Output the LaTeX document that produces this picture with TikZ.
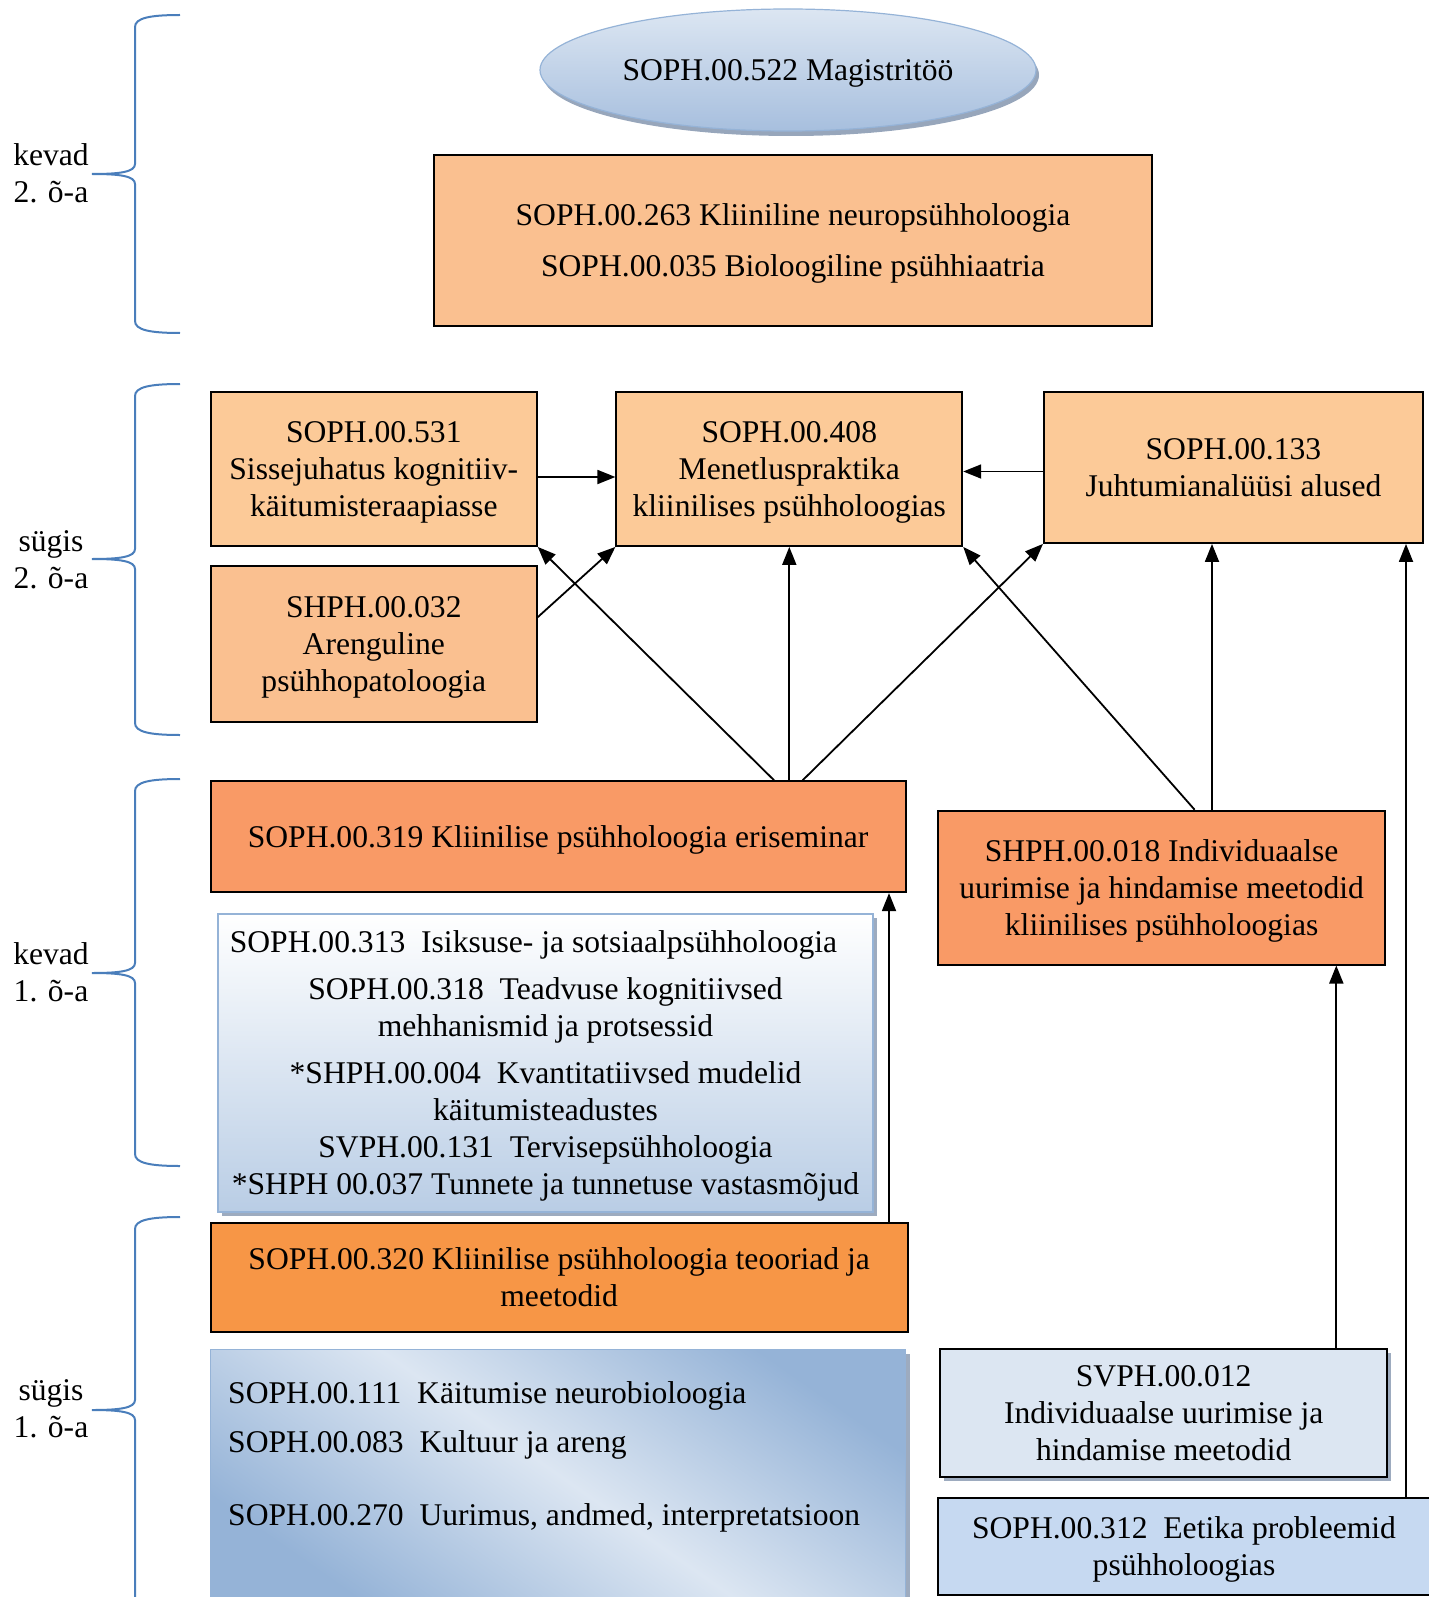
\documentclass[tikz,border=0pt]{standalone}
\usepackage{fontspec}
\setmainfont{Liberation Serif}
\usetikzlibrary{arrows.meta,shapes.geometric,shadows}
\definecolor{peach}{HTML}{FCCA98}
\definecolor{peachd}{HTML}{FAC090}
\definecolor{salmon}{HTML}{F99A66}
\definecolor{orng}{HTML}{F79646}
\definecolor{braceblue}{HTML}{4A7EBB}
\definecolor{lbA}{HTML}{DCE6F2}
\definecolor{lbB}{HTML}{95B3D7}
\definecolor{lbC}{HTML}{C6D9F1}
\definecolor{lbD}{HTML}{B9CDE5}
\definecolor{lbE}{HTML}{A7BFDE}
\definecolor{shd}{HTML}{8C9CB4}
\newcommand\tA{\rule{0pt}{30pt}}
\newcommand\tZ{\rule[-9pt]{0pt}{9pt}}
\newcommand\semBrace[3]{%
  \draw[bracestyle] (180,#1) .. controls (150,#1) and (135,#1+3) .. (135,#1+12)
    -- (135,#2-10) .. controls (135,#2-2) and (120,#2) .. (92,#2)
    .. controls (120,#2) and (135,#2+2) .. (135,#2+10)
    -- (135,#3-12) .. controls (135,#3-3) and (150,#3) .. (180,#3);}
\begin{document}
\begin{tikzpicture}[x=1pt,y=-1pt,
  font=\fontsize{31.6}{37}\selectfont,
  box/.style={draw=black, line width=1.8pt, align=center, inner sep=0pt},
  arr/.style={line width=1.8pt, -{Triangle[length=18pt,width=14pt]}},
  bracestyle/.style={draw=braceblue, line width=2pt},
  sem/.style={align=center, inner sep=0pt},
  shad/.style={drop shadow={shadow xshift=4pt,shadow yshift=-4pt,fill=shd,opacity=0.85}}]
\useasboundingbox (0,0) rectangle (1428,1597);

% braces and semester labels
\semBrace{15}{174}{333}
\semBrace{384}{559}{735}
\semBrace{779}{973}{1166}
\semBrace{1217}{1410}{1660}
\node[sem] (k2) at (51,173) {kevad\\2. õ-a};
\node[sem] (s2) at (51,560) {sügis\\2. õ-a};
\node[sem] (k1) at (51,972) {kevad\\1. õ-a};
\node[sem] (s1) at (51,1409) {sügis\\1. õ-a};

% nodes
\node[ellipse, draw=lbB, line width=1.2pt, minimum width=496pt, minimum height=122pt,
  top color=lbA, bottom color=lbE, inner sep=0pt,
  drop shadow={shadow xshift=3pt,shadow yshift=-5pt,fill=shd,opacity=0.9}] (mag) at (788,70)
  {\tA SOPH.00.522 Magistritöö\tZ};

\node[box, fill=peachd, minimum width=718pt, minimum height=171pt] (neuro) at (793,240.5)
  {\tA SOPH.00.263 Kliiniline neuropsühholoogia\\[14pt]SOPH.00.035 Bioloogiline psühhiaatria\tZ};

\node[box, fill=peach, minimum width=326pt, minimum height=154pt] (s531) at (373.8,469)
  {\tA SOPH.00.531\\Sissejuhatus kognitiiv-\\käitumisteraapiasse\tZ};
\node[box, fill=peach, minimum width=346pt, minimum height=154pt] (s408) at (789.3,469)
  {\tA SOPH.00.408\\Menetluspraktika\\kliinilises psühholoogias\tZ};
\node[box, fill=peach, minimum width=379pt, minimum height=151pt] (s133) at (1233.4,467.5)
  {\tA SOPH.00.133\\Juhtumianalüüsi alused\tZ};
\node[box, fill=peachd, minimum width=326pt, minimum height=156pt] (s032) at (373.8,644.2)
  {\tA SHPH.00.032\\Arenguline\\psühhopatoloogia\tZ};

\node[box, fill=salmon, minimum width=695pt, minimum height=111pt] (s319) at (558.1,836.7)
  {\tA SOPH.00.319 Kliinilise psühholoogia eriseminar\tZ};
\node[box, fill=salmon, minimum width=447pt, minimum height=154pt] (s018) at (1161.6,887.6)
  {\tA SHPH.00.018 Individuaalse\\uurimise ja hindamise meetodid\\kliinilises psühholoogias\tZ};

\node[box, draw=lbB, line width=1.5pt, top color=white, bottom color=lbD, shad,
  minimum width=655pt, minimum height=298pt] (l313) at (545.5,1062.8)
  {\tA SOPH.00.313~ Isiksuse- ja sotsiaalpsühholoogia\rule{24pt}{0pt}\\[10pt]
   SOPH.00.318~ Teadvuse kognitiivsed\\mehhanismid ja protsessid\\[10pt]
   *SHPH.00.004~ Kvantitatiivsed mudelid\\käitumisteadustes\\
   SVPH.00.131~ Tervisepsühholoogia\\
   *SHPH 00.037 Tunnete ja tunnetuse vastasmõjud\tZ};

\node[box, fill=orng, minimum width=697pt, minimum height=109pt] (s320) at (559.2,1277.7)
  {\tA SOPH.00.320 Kliinilise psühholoogia teooriad ja\\meetodid\tZ};

\node[box, draw=lbB, line width=1.5pt, shading=axis, top color=lbB,
  bottom color=lbB, middle color=lbA, shading angle=-35, shad,
  minimum width=695pt, minimum height=250pt] (l111) at (558.1,1474.5) {};
\node[align=left, inner sep=0pt, anchor=west] (l111t) at (228,1457)
  {SOPH.00.111~ Käitumise neurobioloogia\\[12pt]
   SOPH.00.083~ Kultuur ja areng\\[36pt]
   SOPH.00.270~ Uurimus, andmed, interpretatsioon};

\node[box, fill=lbA, shad, minimum width=447pt, minimum height=128pt] (s012) at (1163.7,1412.7)
  {\tA SVPH.00.012\\Individuaalse uurimise ja\\hindamise meetodid\tZ};
\node[box, fill=lbC, minimum width=492pt, minimum height=97pt] (s312) at (1184,1546.5)
  {\tA SOPH.00.312~ Eetika probleemid\\psühholoogias\tZ};

% connectors
\draw[arr] ([yshift=-8pt]s531.east) -- ([yshift=-8pt]s408.west);
\coordinate (b1) at ([yshift=-4pt]s133.west);
\draw[arr] (b1) -- (b1 -| s408.east);
\draw[arr] ([yshift=27pt]s032.east) -- (s408.south west);
\draw[arr] ([xshift=216pt]s319.north) -- (s531.south east);
\draw[arr] (s408.south |- s319.north) -- (s408.south);
\draw[arr] ([xshift=244.5pt]s319.north) -- (s133.south west);
\draw[arr] ([xshift=33pt]s018.north) -- (s408.south east);
\coordinate (a1) at ([xshift=50.4pt]s018.north);
\draw[arr] (a1) -- (a1 |- s133.south);
\coordinate (a2) at ([xshift=222pt]s312.north);
\draw[arr] (a2) -- (a2 |- s133.south);
\coordinate (a3) at ([xshift=172.6pt]s012.north);
\draw[arr] (a3) -- (a3 |- s018.south);
\coordinate (a4) at ([xshift=329.8pt]s320.north);
\draw[arr] (a4) -- (a4 |- s319.south);
\end{tikzpicture}
\end{document}
